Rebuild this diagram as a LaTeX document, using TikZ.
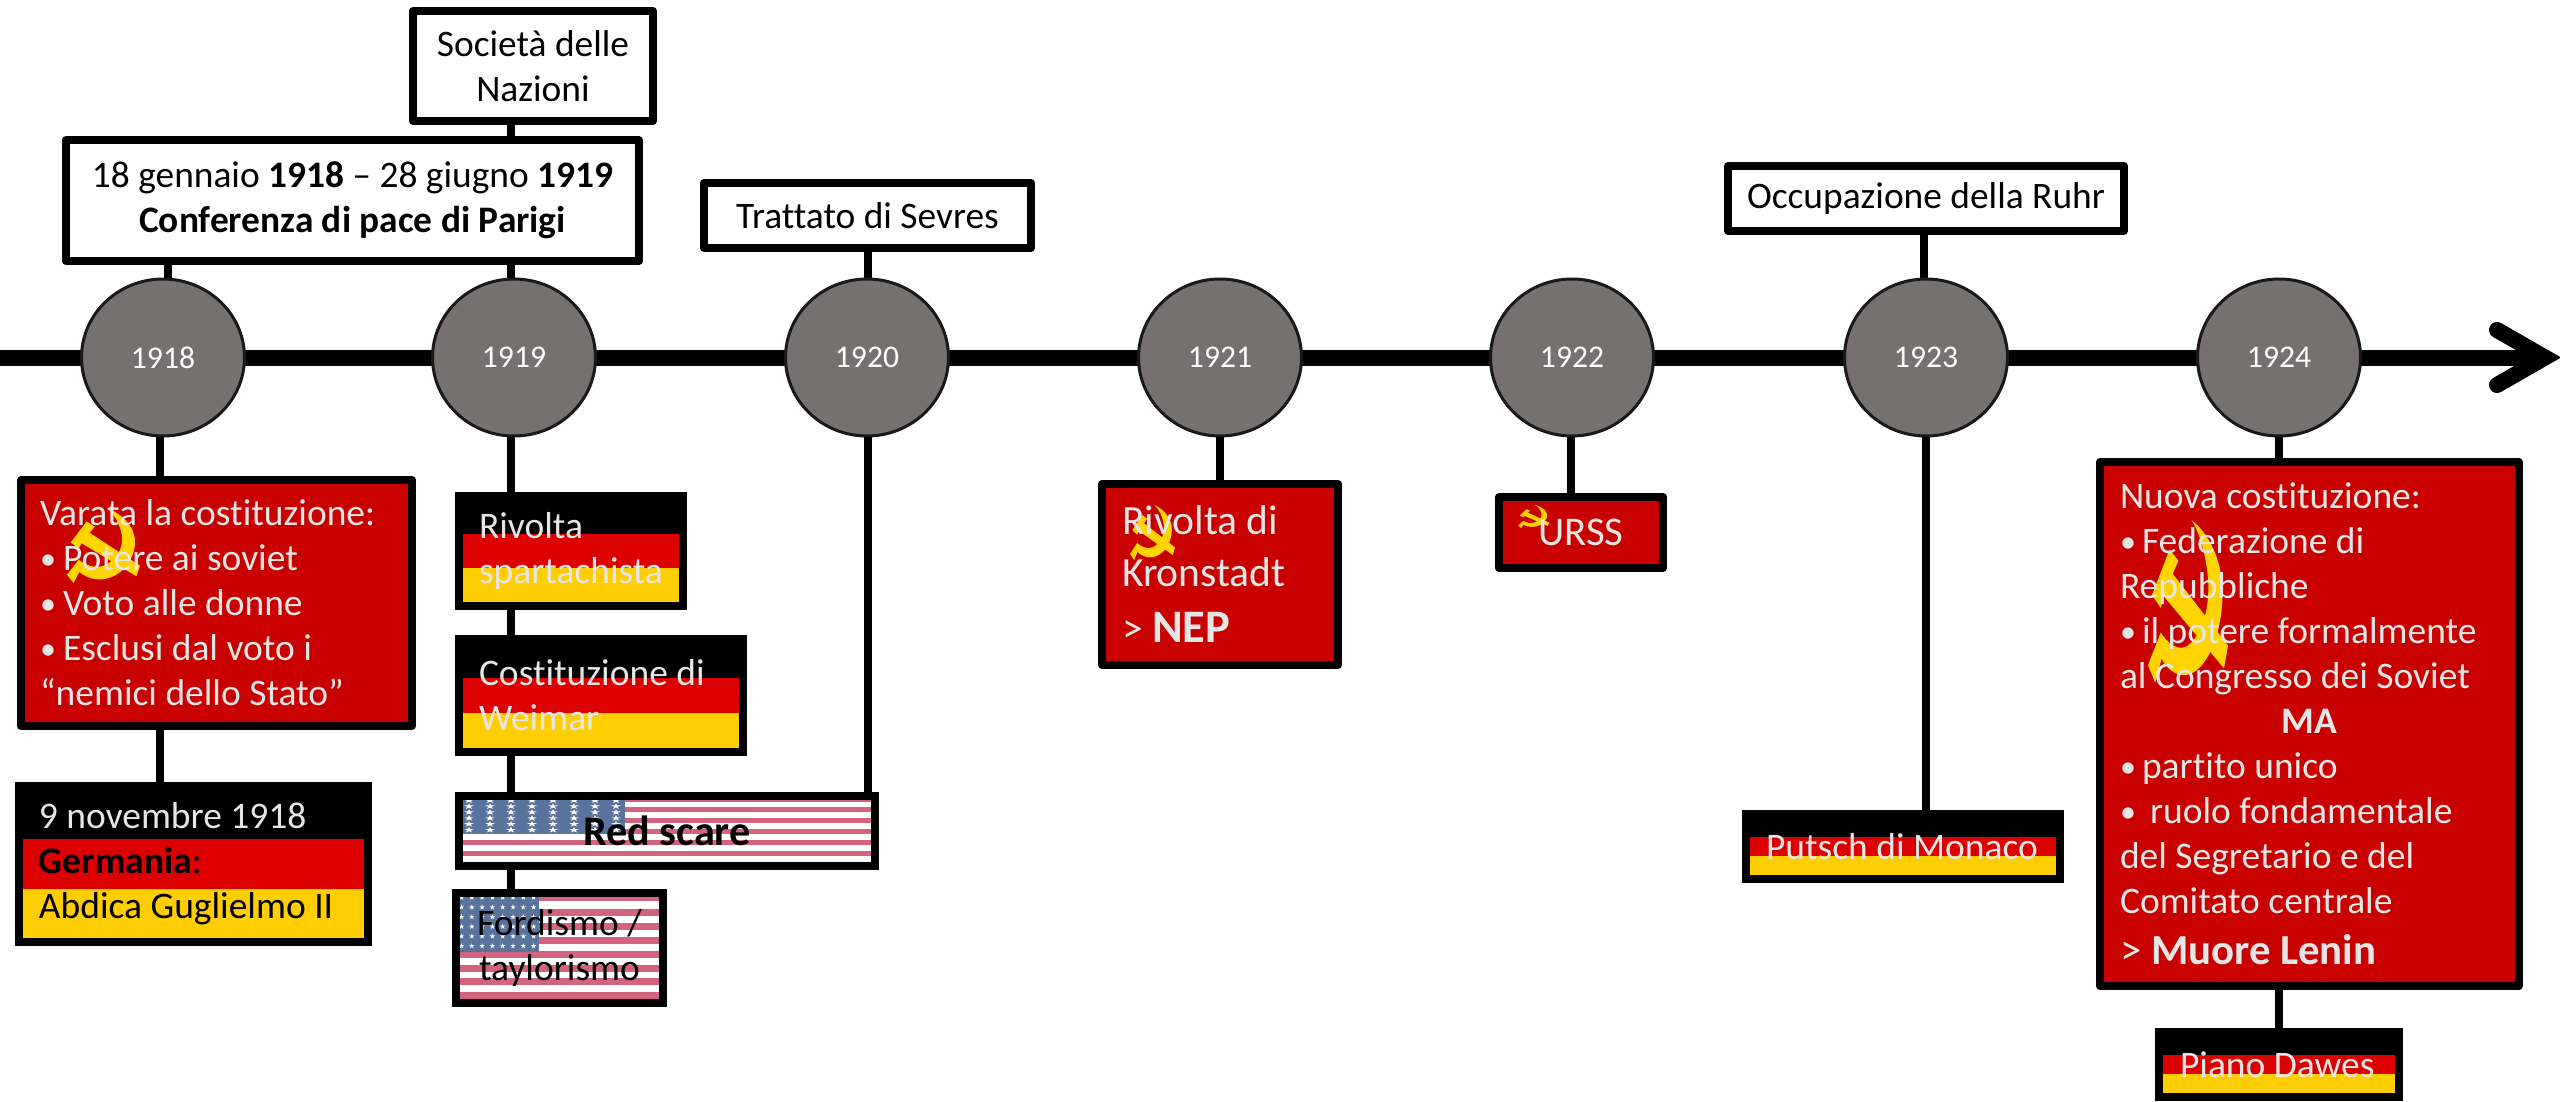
\documentclass[tikz,border=0pt]{standalone}
\usepackage{fontspec}
\setmainfont{Carlito}[Ligatures=NoCommon]
\usetikzlibrary{shapes.geometric,calc}
\definecolor{boxred}{HTML}{C80000}
\definecolor{gerred}{HTML}{DD0000}
\definecolor{gergold}{HTML}{FFCE00}
\definecolor{usred}{HTML}{D3637F}
\definecolor{usblue}{HTML}{5A739C}
\definecolor{lighttext}{HTML}{E7E6E6}
\definecolor{emblemgold}{HTML}{FFD400}
\definecolor{yeargrey}{HTML}{767171}
\pgfdeclarelayer{bg}
\pgfdeclarelayer{deco}
\pgfsetlayers{bg,deco,main}
\newcommand{\bul}[1][11pt]{\makebox[#1][l]{\raisebox{.6pt}{\fontsize{16}{16}\selectfont •}}}
\newcommand{\emblemshape}{%
  \fill[emblemgold] (.545,0) .. controls (.80,.10) and (.98,.30) .. (.92,.55) .. controls (.86,.82) and (.62,.97) .. (.41,.95) .. controls (.30,.94) and (.22,.90) .. (.17,.85) -- (.09,1) -- (0,.89) -- (.16,.69) .. controls (.25,.76) and (.38,.81) .. (.50,.77) .. controls (.66,.71) and (.78,.55) .. (.75,.36) .. controls (.72,.20) and (.65,.09) .. (.545,0) -- cycle;
  \fill[emblemgold] (.05,.46) -- (.27,.18) -- (.38,.25) -- (.31,.33) -- (1,.77) -- (.95,.91) -- (.20,.47) -- (.16,.54) -- cycle;}
\newcommand{\starshape}{(0,-1) -- (.22,-.31) -- (.95,-.31) -- (.36,.12) -- (.59,.81) -- (0,.38) -- (-.59,.81) -- (-.36,.12) -- (-.95,-.31) -- (-.22,-.31) -- cycle}
% red fill and emblem under the text of a red box: name, emblem x, y, w, h
\newcommand{\redback}[5]{%
  \fill[boxred] (#1.north west) rectangle (#1.south east);
  \begin{scope}[shift={(#1.north west)},shift={(#2,#3)},xscale=#4,yscale=#5]
  \emblemshape
  \end{scope}}
% German flag under the text: name, width, height
\newcommand{\gerback}[3]{%
  \begin{scope}[shift={(#1.north west)}]
  \pgfmathsetmacro{\sa}{4+(#3-8)/3}
  \pgfmathsetmacro{\sb}{4+2*(#3-8)/3}
  \fill[black] (0,0) rectangle (#2,\sa);
  \fill[gerred] (0,\sa) rectangle (#2,\sb);
  \fill[gergold] (0,\sb) rectangle (#2,#3);
  \end{scope}}
\tikzset{
  dims/.style 2 args={minimum width=#1*0.5pt,minimum height=#2*0.5pt},
  tw/.style={text width=#1*0.5pt},
  basebox/.style={draw=black,line width=4pt,inner sep=0pt,outer sep=0pt,rectangle,
    font=\fontsize{18.75}{22.5}\selectfont},
  whitebox/.style={basebox,fill=white,text=black,align=center,line join=round,
    font=\fontsize{18.7}{22.5}\selectfont},
  redbox/.style={basebox,text=lighttext,align=flush left,line join=round},
  flagbox/.style={basebox,align=flush left,text=lighttext},
  yearnode/.style={ellipse,draw=black!90,line width=1.5pt,fill=yeargrey,text=white,inner sep=0pt,outer sep=0pt,
    minimum width=81.5pt,minimum height=78.5pt,font=\fontsize{15.8}{19}\selectfont},
  linkline/.style={line width=4pt,draw=black},
  axisline/.style={line width=8pt,draw=black},
  headline/.style={line width=8pt,draw=black,line cap=round,line join=miter}
}
\begin{document}
\begin{tikzpicture}[x=0.5pt,y=-0.5pt]
\useasboundingbox (0,0) rectangle (2560,1102);
\begin{pgfonlayer}{bg}
\fill[white] (0,0) rectangle (2560,1102);
\end{pgfonlayer}

\foreach \yr/\cx in {1918/163,1919/514,1920/867,1921/1220,1922/1572,1923/1926,1924/2279}
  \node[yearnode] (c\yr) at (\cx,357.5) {\yr};

\node[whitebox,dims={240}{110}] (soc) at (533,66) {Società delle\\Nazioni};
\node[whitebox,dims={573}{121}] (conf) at (352.5,200.5) {18 gennaio \textbf{1918} – 28 giugno \textbf{1919}\\\textbf{Conferenza di pace di Parigi}};
\node[whitebox,dims={327}{65}] (tratt) at (867.5,215.5) {Trattato di Sevres};
\node[whitebox,dims={396}{65}] (occ) at (1926,198.5) {Occupazione della Ruhr};

\node[redbox,dims={391}{246},tw=353] (vara) at (216.5,603) {Varata la costituzione:\\\bul[11.5pt]Potere ai soviet\\\bul[11.5pt]Voto alle donne\\\bul[11.5pt]Esclusi dal voto i\\“nemici dello Stato”};
\node[flagbox,dims={349}{156},tw=309] (nov) at (193.5,864) {9 novembre 1918\\{\color{black}\textbf{Germania}:}\\{\color{black}Abdica Guglielmo II}};
\node[flagbox,dims={224}{110},tw=184] (riv) at (571,551) {Rivolta\\spartachista};
\node[flagbox,dims={284}{113},tw=244] (cost) at (601,695.5) {Costituzione di\\Weimar};
\node[flagbox,dims={416}{70},text=black,align=center,font=\fontsize{21.1}{25}\selectfont\bfseries] (red) at (667,831) {Red scare};
\node[flagbox,dims={207}{110},text=black,align=center] (ford) at (559.5,948) {Fordismo /\\taylorismo};
\node[redbox,dims={236}{181},tw=196,font=\fontsize{20.8}{26}\selectfont] (krons) at (1220,574.5) {Rivolta di\\Kronstadt\\[2pt]> {\fontsize{23.3}{26}\selectfont\textbf{NEP}}};
\node[redbox,dims={164.5}{71},align=center,font=\fontsize{20.4}{25}\selectfont] (urss) at (1581,532.5) {URSS};
\node[flagbox,dims={314}{65},tw=274] (putsch) at (1903,846.5) {\mbox{Putsch di Monaco}};
\node[redbox,dims={419}{524},tw=379] (nuova) at (2309.5,724) {Nuova costituzione:\\\bul{}Federazione di\\Repubbliche\\\bul{}il potere formalmente\\al Congresso dei Soviet\\\makebox[\linewidth]{\textbf{MA}}\\\bul{}partito unico\\\bul[15pt]ruolo fondamentale\\del Segretario e del\\Comitato centrale\\[3pt]{\fontsize{21.4}{26}\selectfont > \textbf{Muore Lenin}}};
\node[flagbox,dims={240}{65},tw=198] (piano) at (2279,1064.5) {\mbox{Piano Dawes}};

\begin{pgfonlayer}{deco}
\redback{vara}{46}{28}{73}{75}
\redback{krons}{28}{21}{45}{55}
\redback{urss}{19.5}{8}{31}{23}
\redback{nuova}{48}{58}{80}{163}
\gerback{nov}{349}{156}
\gerback{riv}{224}{110}
\gerback{cost}{284}{113}
\gerback{putsch}{314}{65}
\gerback{piano}{240}{65}
% Red scare flag
\begin{scope}[shift={(red.north west)}]
  \fill[white] (0,0) rectangle (416,70);
  \fill[usred] (0,0) rectangle (416,5.5);
  \foreach \k in {0,...,4} \fill[usred] (0,{10.7+11*\k}) rectangle (416,{16.2+11*\k});
  \fill[usblue] (0,0) rectangle (166,38);
  \foreach \i in {0,...,7} \foreach \j in {0,...,5}
    \fill[white,shift={({10+21*\i},{4.5+5.9*\j})},xscale=5,yscale=3] \starshape;
\end{scope}
% Fordismo flag
\begin{scope}[shift={(ford.north west)}]
  \fill[white] (0,0) rectangle (207,110);
  \fill[usred] (0,0) rectangle (207,8);
  \foreach \k in {1,...,7} \fill[usred] (0,{2+13.9*\k}) rectangle (207,{9+13.9*\k});
  \fill[usblue] (0,0) rectangle (83,59);
  \foreach \i in {0,...,7} \foreach \j in {0,...,5}
    \fill[white,shift={({5.5+10.3*\i},{4.5+9.7*\j})},xscale=2.8,yscale=2.8] \starshape;
\end{scope}
\end{pgfonlayer}

\coordinate (axisstart) at (0,357.5);
\coordinate (axisend) at (2545,357.5);
\coordinate (headtop) at (2497,330);
\coordinate (headbot) at (2497,385);
\coordinate (xa) at (168,0);
\coordinate (xb) at (160,0);
\coordinate (xc) at (511,0);
\coordinate (xd) at (868,0);
\coordinate (xe) at (1220,0);
\coordinate (xf) at (1571,0);
\coordinate (xg) at (1924,0);
\coordinate (xh) at (1926,0);
\coordinate (xi) at (2279,0);

\begin{pgfonlayer}{bg}
\draw[axisline] (axisstart) -- (axisend);
\draw[headline] (headtop) -- (axisend) -- (headbot);
\draw[linkline] (soc.south -| xc) -- (conf.north -| xc);
\draw[linkline] (conf.south -| xa) -- (c1918.north -| xa);
\draw[linkline] (conf.south -| xc) -- (c1919.north -| xc);
\draw[linkline] (tratt.south -| xd) -- (c1920.north -| xd);
\draw[linkline] (occ.south -| xg) -- (c1923.north -| xg);
\draw[linkline] (c1918.south -| xb) -- (vara.north -| xb);
\draw[linkline] (vara.south -| xb) -- (nov.north -| xb);
\draw[linkline] (c1919.south -| xc) -- (riv.north -| xc);
\draw[linkline] (riv.south -| xc) -- (cost.north -| xc);
\draw[linkline] (cost.south -| xc) -- (red.north -| xc);
\draw[linkline] (red.south -| xc) -- (ford.north -| xc);
\draw[linkline] (c1920.south -| xd) -- (red.north -| xd);
\draw[linkline] (c1921.south -| xe) -- (krons.north -| xe);
\draw[linkline] (c1922.south -| xf) -- (urss.north -| xf);
\draw[linkline] (c1923.south -| xh) -- (putsch.north -| xh);
\draw[linkline] (c1924.south -| xi) -- (nuova.north -| xi);
\draw[linkline] (nuova.south -| xi) -- (piano.north -| xi);
\end{pgfonlayer}
\end{tikzpicture}
\end{document}
